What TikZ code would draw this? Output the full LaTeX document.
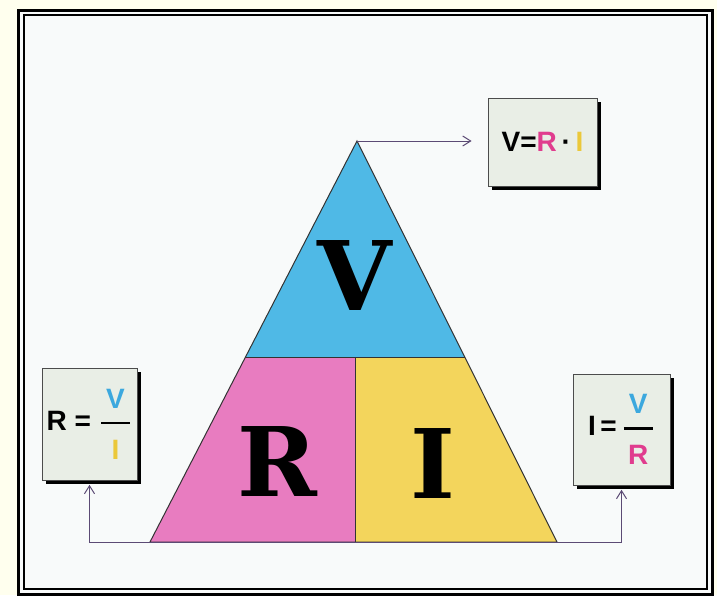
\documentclass[tikz,border=0pt]{standalone}
\usepackage{amsmath}
\usepackage{fontspec}
\setmainfont{Liberation Sans}
\newfontfamily\slabfont{DejaVu Serif}
\usepackage{xcolor}
\usepackage{tikz}
\usetikzlibrary{arrows.meta,calc,shadows}
\definecolor{cream}{HTML}{FFFFEE}
\definecolor{paper}{HTML}{F8FAFA}
\definecolor{vblue}{HTML}{4FB9E6}
\definecolor{rpink}{HTML}{E87CC0}
\definecolor{iyellow}{HTML}{F3D55C}
\definecolor{boxfill}{HTML}{E9EEE6}
\definecolor{wire}{HTML}{5B4A74}
\definecolor{textblue}{HTML}{3CA8DE}
\definecolor{textpink}{HTML}{E03C8E}
\definecolor{textyellow}{HTML}{EBC83A}
\newcommand{\bigletter}[1]{{\fontsize{48}{50}\selectfont\slabfont\bfseries #1}}
\newcommand{\ratio}[2]{$\genfrac{}{}{1.3pt}{0}{\text{\kern2.5pt\rule[-3pt]{0pt}{3pt}#1\kern2.5pt}}{\text{\rule{0pt}{13.5pt}#2}}$}
\tikzset{barb/.tip={Straight Barb[length=4pt,width=5pt]},formula/.style={draw=black!70,line width=.4pt,fill=boxfill,general shadow={fill=black,shadow xshift=2pt,shadow yshift=-2.2pt},font=\fontsize{14}{16}\selectfont\bfseries,inner sep=2pt},flow/.style={draw=wire,line width=.5pt,-barb},part/.style={draw=black!80,line width=.5pt}}

\begin{document}
\begin{tikzpicture}[x=0.5pt,y=-0.5pt]
\useasboundingbox (0,0) rectangle (717,595);
\fill[cream] (0,0) rectangle (717,595);
\fill[paper] (18,10) rectangle (712,594);
\draw[line width=1.5pt] (18,10) rectangle (712,594);
\draw[line width=1pt] (24,15) rectangle (707,589);
\coordinate (apex) at (357,141);
\coordinate (bl) at (150,542);
\coordinate (br) at (557,542);
\coordinate (ml) at ($(apex)!0.539!(bl)$);
\coordinate (mr) at ($(apex)!0.539!(br)$);
\coordinate (mm) at ($(ml)!0.5!(mr)$);
\coordinate (mb) at (mm |- bl);
\fill[vblue] (apex) -- (mr) -- (ml) -- cycle;
\fill[rpink] (ml) -- (mm) -- (mb) -- (bl) -- cycle;
\fill[iyellow] (mm) -- (mr) -- (br) -- (mb) -- cycle;
\draw[part] (apex) -- (br) -- (bl) -- cycle;
\draw[part] (ml) -- (mr);
\draw[part] (mm) -- (mb);
\node (vletter) at (355,276) {\bigletter{V}};
\node (rletter) at (277,461) {\bigletter{R}};
\node (iletter) at (433,463) {\bigletter{I}};
\node[formula,minimum width=54.5pt,minimum height=44pt] (vri) at (542.5,142) {V=\textcolor{textpink}{R}\,·\,\textcolor{textyellow}{I}};
\node[formula,minimum width=47.5pt,minimum height=56pt] (rvi) at (89.5,424) {R = \ratio{\color{textblue}V}{\color{textyellow}I}};
\node[formula,minimum width=48.5pt,minimum height=55.5pt] (ivr) at (621.5,429.5) {I\,=\,\ratio{\color{textblue}V}{\color{textpink}R}};
\draw[flow,shorten >=8pt] (apex) -- (apex -| vri.west);
\draw[flow,barb-barb,shorten <=2.2pt,shorten >=2.2pt] (rvi.south) -- (rvi.south |- bl) -- (ivr.south |- bl) -- (ivr.south);
\end{tikzpicture}
\end{document}
